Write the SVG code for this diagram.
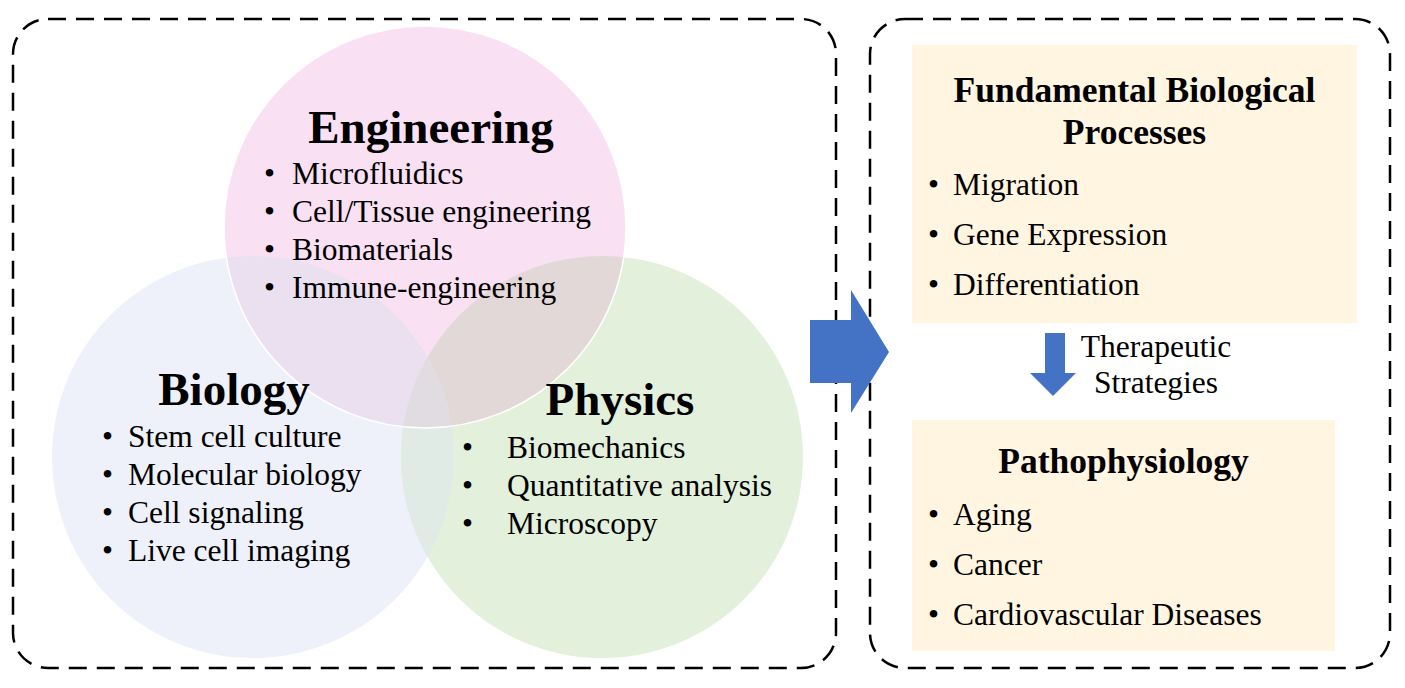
<svg xmlns="http://www.w3.org/2000/svg" width="1405" height="688" viewBox="0 0 1405 688">
<style>
.frame{fill:none;stroke:#000;stroke-width:2.5;stroke-dasharray:18 10}
.h1{font-family:"Liberation Serif","Times New Roman",serif;font-weight:bold;font-size:47px;fill:#000;text-anchor:middle}
.h2{font-family:"Liberation Serif","Times New Roman",serif;font-weight:bold;font-size:35.5px;fill:#000;text-anchor:middle}
.t{font-family:"Liberation Serif","Times New Roman",serif;font-size:31.5px;fill:#000}
.c{font-family:"Liberation Serif","Times New Roman",serif;font-size:31.5px;fill:#000;text-anchor:middle}
.box{fill:#fff5e1}
.arrow{fill:#4472c4}
</style>
<defs>
<clipPath id="clipE"><circle cx="425" cy="227" r="201"/></clipPath>
<clipPath id="clipP"><circle cx="602" cy="457" r="201"/></clipPath>
</defs>
<rect width="1405" height="688" fill="#fff"/>
<g id="left-panel">
<rect class="frame" x="13" y="19" width="823" height="649" rx="35" ry="35"/>
</g>
<g id="venn">
<circle id="circle-biology" cx="253" cy="457" r="201" fill="#eef1f9"/>
<circle id="circle-physics" cx="602" cy="457" r="201" fill="#e3f0dc"/>
<circle id="circle-engineering" cx="425" cy="227" r="201" fill="#f9e1f3"/>
<circle cx="253" cy="457" r="201" fill="#ebe0f0" clip-path="url(#clipE)"/>
<circle cx="602" cy="457" r="201" fill="#e3d8d8" clip-path="url(#clipE)"/>
<circle cx="253" cy="457" r="201" fill="#e0ebe5" clip-path="url(#clipP)"/>
<g clip-path="url(#clipE)"><circle cx="253" cy="457" r="201" fill="#e1dce2" clip-path="url(#clipP)"/></g>
<circle cx="425" cy="227" r="201" fill="none" stroke="#fff" stroke-width="1.5"/>
</g>
<g id="engineering">
<text class="h1" x="431" y="143">Engineering</text>
<text class="t" x="264" y="184">•</text><text class="t" x="292" y="184">Microfluidics</text>
<text class="t" x="264" y="222">•</text><text class="t" x="292" y="222">Cell/Tissue engineering</text>
<text class="t" x="264" y="260">•</text><text class="t" x="292" y="260">Biomaterials</text>
<text class="t" x="264" y="298">•</text><text class="t" x="292" y="298">Immune-engineering</text>
</g>
<g id="biology">
<text class="h1" x="234" y="405">Biology</text>
<text class="t" x="102" y="447">•</text><text class="t" x="128" y="447">Stem cell culture</text>
<text class="t" x="102" y="485">•</text><text class="t" x="128" y="485">Molecular biology</text>
<text class="t" x="102" y="523">•</text><text class="t" x="128" y="523">Cell signaling</text>
<text class="t" x="102" y="561">•</text><text class="t" x="128" y="561">Live cell imaging</text>
</g>
<g id="physics">
<text class="h1" x="620" y="415">Physics</text>
<text class="t" x="462" y="458">•</text><text class="t" x="507" y="458">Biomechanics</text>
<text class="t" x="462" y="496">•</text><text class="t" x="507" y="496">Quantitative analysis</text>
<text class="t" x="462" y="534">•</text><text class="t" x="507" y="534">Microscopy</text>
</g>
<g id="right-panel">
<rect class="frame" x="870" y="19" width="520" height="649" rx="35" ry="35"/>
</g>
<g id="fundamental">
<rect class="box" x="912" y="45" width="445" height="278"/>
<text class="h2" x="1134.5" y="102">Fundamental Biological</text>
<text class="h2" x="1134.5" y="144">Processes</text>
<text class="t" x="928" y="195">•</text><text class="t" x="953" y="195">Migration</text>
<text class="t" x="928" y="245">•</text><text class="t" x="953" y="245">Gene Expression</text>
<text class="t" x="928" y="295">•</text><text class="t" x="953" y="295">Differentiation</text>
</g>
<g id="pathophysiology">
<rect class="box" x="912" y="420" width="423" height="231"/>
<text class="h2" x="1123.5" y="473">Pathophysiology</text>
<text class="t" x="928" y="525">•</text><text class="t" x="953" y="525">Aging</text>
<text class="t" x="928" y="575">•</text><text class="t" x="953" y="575">Cancer</text>
<text class="t" x="928" y="625">•</text><text class="t" x="953" y="625">Cardiovascular Diseases</text>
</g>
<g id="connectors">
<polygon class="arrow" points="810,320 851,320 851,290 889,352 851,413 851,383 810,383"/>
<polygon class="arrow" points="1045,333 1065,333 1065,373 1076,373 1053,396 1030,373 1045,373"/>
<text class="c" x="1156" y="357">Therapeutic</text>
<text class="c" x="1156" y="393">Strategies</text>
</g>
</svg>
